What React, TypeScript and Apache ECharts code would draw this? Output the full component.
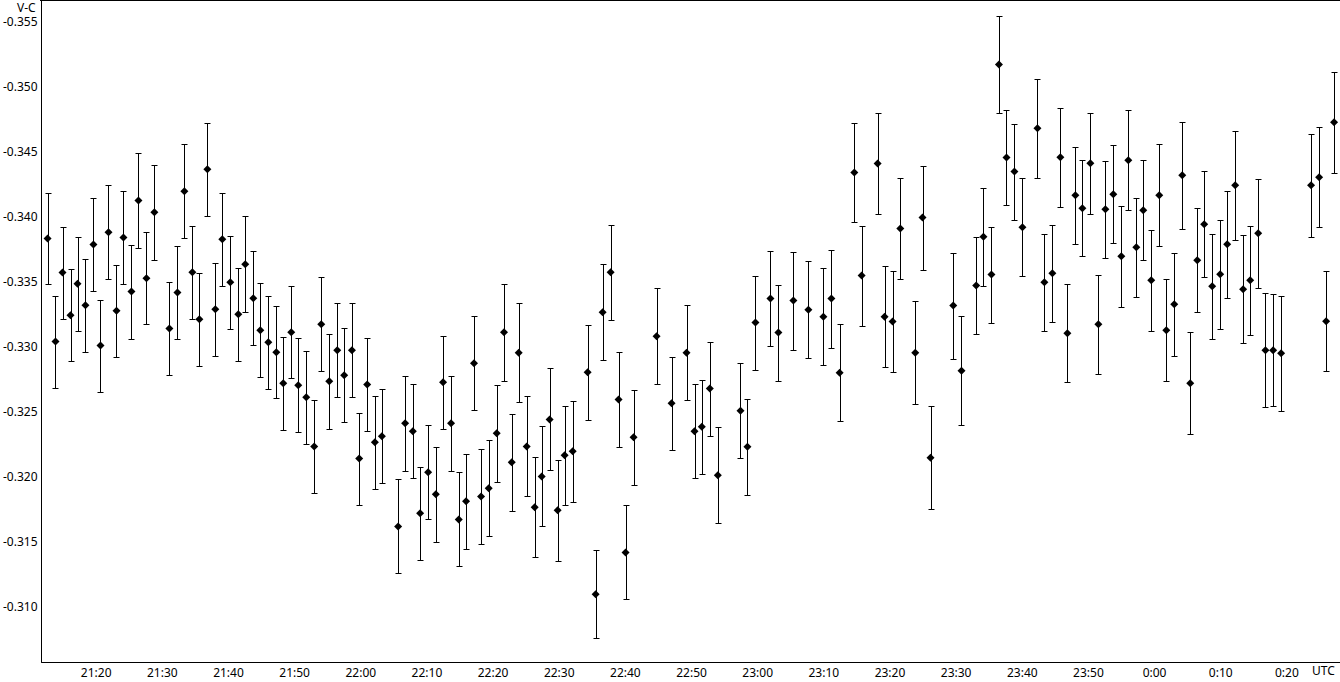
import React, { useEffect, useRef } from "react";
import * as echarts from "echarts";

// Observation times, in minutes after 21:00 UTC
const timeMin = [12.65, 13.85, 14.91, 16.12, 17.18, 18.38, 19.59, 20.65, 21.86, 23.07, 24.12, 25.33, 26.39, 27.6, 28.8, 31.07, 32.28, 33.33, 34.54, 35.6, 36.81, 38.01, 39.07, 40.28, 41.49, 42.54, 43.75, 44.81, 46.02, 47.23, 48.28, 49.49, 50.55, 51.76, 52.96, 54.02, 55.23, 56.44, 57.49, 58.66, 59.76, 60.97, 62.13, 63.19, 65.65, 66.7, 67.87, 68.97, 70.18, 71.34, 72.44, 73.65, 74.81, 75.92, 77.12, 78.18, 79.34, 80.55, 81.65, 82.82, 83.87, 85.08, 86.29, 87.35, 88.55, 89.76, 90.82, 92.03, 94.29, 95.5, 96.56, 97.77, 98.97, 100.03, 101.24, 104.71, 106.98, 109.24, 110.45, 111.55, 112.76, 113.97, 117.4, 118.45, 119.66, 121.93, 123.13, 125.4, 127.66, 129.93, 131.14, 132.39, 134.61, 135.71, 138.13, 139.18, 140.39, 141.56, 143.82, 144.92, 146.13, 149.56, 150.81, 153.03, 154.13, 155.34, 156.47, 157.61, 158.81, 160.02, 162.29, 163.34, 164.55, 165.76, 166.82, 168.03, 169.08, 170.29, 171.5, 172.56, 173.76, 174.97, 176.03, 177.24, 178.29, 179.5, 180.71, 181.77, 182.97, 184.18, 185.39, 186.45, 187.5, 188.71, 189.92, 190.98, 192.19, 193.39, 194.45, 195.66, 196.76, 197.92, 199.13, 203.66, 204.87, 205.93, 207.13];

// V-C differential magnitudes
const vcValues = [
  -0.33832, -0.33039, -0.3357, -0.33241, -0.33485, -0.33318, -0.33786, -0.33008, -0.3388, -0.33277,
  -0.3384, -0.33424, -0.34125, -0.33526, -0.34035, -0.33139, -0.33416, -0.34196, -0.33572, -0.33211,
  -0.34366, -0.33288, -0.33827, -0.33495, -0.33249, -0.33634, -0.33372, -0.33126, -0.33033, -0.32956,
  -0.32718, -0.3311, -0.32702, -0.3261, -0.32232, -0.33172, -0.32733, -0.32972, -0.32779, -0.32972,
  -0.32138, -0.32708, -0.32263, -0.3231, -0.31616, -0.3241, -0.32348, -0.31717, -0.32032, -0.31863,
  -0.32725, -0.3241, -0.3167, -0.31809, -0.32872, -0.31847, -0.31909, -0.32333, -0.3311, -0.32109,
  -0.32954, -0.32232, -0.31763, -0.32001, -0.3244, -0.3174, -0.32163, -0.32194, -0.32802, -0.31093,
  -0.33264, -0.33572, -0.32594, -0.31416, -0.32302, -0.3308, -0.32564, -0.32954, -0.32348, -0.32384,
  -0.32677, -0.32009, -0.32507, -0.3223, -0.33185, -0.3337, -0.33108, -0.33355, -0.33285, -0.33231,
  -0.3337, -0.328, -0.3434, -0.33547, -0.3441, -0.33231, -0.33193, -0.33909, -0.32954, -0.33994,
  -0.32145, -0.33316, -0.32815, -0.3347, -0.33847, -0.33555, -0.35172, -0.34456, -0.34348, -0.33919,
  -0.34681, -0.33495, -0.33565, -0.34458, -0.33103, -0.34165, -0.34065, -0.34412, -0.33172, -0.34058,
  -0.34173, -0.33696, -0.34435, -0.33765, -0.3405, -0.33511, -0.34165, -0.33126, -0.33326, -0.34319,
  -0.32718, -0.33665, -0.33942, -0.33465, -0.33557, -0.33788, -0.34242, -0.33442, -0.33511, -0.33873,
  -0.32972, -0.32972, -0.32949, -0.34242, -0.34304, -0.33195, -0.34728,
];

// Half-width of each error bar
const vcErrors = [
  0.00353, 0.00354, 0.00354, 0.00354, 0.00361, 0.00358, 0.00358, 0.00354, 0.00361, 0.00354,
  0.00361, 0.00362, 0.00366, 0.00354, 0.00366, 0.00358, 0.00358, 0.00362, 0.00358, 0.00358,
  0.00358, 0.00358, 0.00358, 0.00358, 0.00358, 0.0037, 0.00362, 0.00362, 0.00358, 0.00354,
  0.00358, 0.00354, 0.00362, 0.00358, 0.00358, 0.00362, 0.00366, 0.00362, 0.00362, 0.00362,
  0.00354, 0.00357, 0.00358, 0.00362, 0.00362, 0.00366, 0.00362, 0.00358, 0.00362, 0.00366,
  0.00358, 0.00366, 0.00362, 0.00366, 0.00362, 0.00366, 0.0037, 0.00373, 0.00373, 0.00373,
  0.00381, 0.00385, 0.00385, 0.00385, 0.00393, 0.00389, 0.00381, 0.00389, 0.00366, 0.00339,
  0.0037, 0.00366, 0.00366, 0.00362, 0.00366, 0.0037, 0.00358, 0.00366, 0.00362, 0.00362,
  0.00362, 0.0037, 0.00366, 0.0037, 0.00362, 0.00366, 0.0037, 0.00377, 0.00373, 0.00373,
  0.00377, 0.00373, 0.00381, 0.00385, 0.00389, 0.00389, 0.00389, 0.00389, 0.00397, 0.004,
  0.00397, 0.00408, 0.0042, 0.00373, 0.00377, 0.0037, 0.00373, 0.00366, 0.0037, 0.00377,
  0.00381, 0.00373, 0.00373, 0.00381, 0.00377, 0.00373, 0.0037, 0.00389, 0.00381, 0.00373,
  0.00377, 0.00389, 0.00385, 0.00381, 0.00385, 0.00389, 0.00393, 0.00393, 0.00397, 0.00412,
  0.00393, 0.004, 0.00408, 0.00404, 0.0042, 0.00412, 0.0042, 0.00416, 0.0042, 0.0042,
  0.00439, 0.00431, 0.00443, 0.00397, 0.00385, 0.00385, 0.00389,
];

// Axis ticks
const xTickMinutes = [20, 30, 40, 50, 60, 70, 80, 90, 100, 110, 120, 130, 140, 150, 160, 170, 180, 190, 200];
const yTickValues = [-0.355, -0.35, -0.345, -0.34, -0.335, -0.33, -0.325, -0.32, -0.315, -0.31];

const X_MIN = 11.74;
const X_MAX = 208.03;
const Y_MIN = -0.35669;
const Y_MAX = -0.30572;

const FONT = "'Noto Sans', 'DejaVu Sans', sans-serif";

function fmtTime(m: number): string {
  const total = 21 * 60 + Math.round(m);
  const h = Math.floor(total / 60) % 24;
  const mm = total % 60;
  return h + ":" + (mm < 10 ? "0" + mm : String(mm));
}

export default function App() {
  const ref = useRef<HTMLDivElement>(null);

  useEffect(() => {
    if (!ref.current) return;
    const chart = echarts.init(ref.current, null, { renderer: "svg" });
    const errData = timeMin.map((t, i) => [t, vcValues[i], vcErrors[i]]);
    const ptData = timeMin.map((t, i) => [t, vcValues[i]]);

    chart.setOption({
      animation: false,
      backgroundColor: "#fff",
      grid: { left: 40, right: 0, top: 0, bottom: 20, containLabel: false },
      xAxis: {
        type: "value",
        min: X_MIN,
        max: X_MAX,
        splitLine: { show: false },
        axisTick: { show: false },
        axisLine: { show: true, onZero: false, lineStyle: { color: "#000", width: 1 } },
        axisLabel: {
          customValues: xTickMinutes,
          formatter: (v: number) => fmtTime(v),
          color: "#000",
          fontSize: 12,
          fontFamily: FONT,
          margin: 4,
          showMinLabel: true,
          showMaxLabel: true,
        },
      },
      yAxis: {
        type: "value",
        inverse: true,
        min: Y_MIN,
        max: Y_MAX,
        splitLine: { show: false },
        axisTick: { show: false },
        axisLine: { show: true, onZero: false, lineStyle: { color: "#000", width: 1 } },
        axisLabel: {
          customValues: yTickValues,
          formatter: (v: number) => v.toFixed(3),
          color: "#000",
          fontSize: 12,
          fontFamily: FONT,
          margin: 4,
        },
      },
      graphic: [
        {
          type: "line",
          shape: { x1: 40, y1: 0.5, x2: 1340, y2: 0.5 },
          style: { stroke: "#000", lineWidth: 1 },
          silent: true,
        },
        {
          type: "text",
          left: 17,
          top: 1,
          style: { text: "V-C", fill: "#000", fontSize: 12, fontFamily: FONT },
          silent: true,
        },
        {
          type: "text",
          left: 1312,
          top: 664,
          style: { text: "UTC", fill: "#000", fontSize: 12, fontFamily: FONT },
          silent: true,
        },
      ],
      series: [
        {
          type: "custom",
          data: errData,
          clip: false,
          renderItem: (params: any, api: any) => {
            const t = api.value(0);
            const v = api.value(1);
            const e = api.value(2);
            const top = api.coord([t, v - e]);
            const bot = api.coord([t, v + e]);
            const x = Math.round(top[0]) + 0.5;
            const y1 = Math.round(top[1]) + 0.5;
            const y2 = Math.round(bot[1]) + 0.5;
            const style = { stroke: "#000", lineWidth: 1 };
            return {
              type: "group",
              children: [
                { type: "line", shape: { x1: x, y1: y1, x2: x, y2: y2 }, style },
                { type: "line", shape: { x1: x - 3, y1: y1, x2: x + 3, y2: y1 }, style },
                { type: "line", shape: { x1: x - 3, y1: y2, x2: x + 3, y2: y2 }, style },
              ],
            };
          },
          z: 2,
        },
        {
          type: "scatter",
          data: ptData,
          symbol: "diamond",
          symbolSize: 8,
          itemStyle: { color: "#000", opacity: 1 },
          z: 3,
        },
      ],
    });

    return () => chart.dispose();
  }, []);

  return (
    <div
      ref={ref}
      style={{ position: "fixed", left: 0, top: 0, width: 1340, height: 682, background: "#fff" }}
    />
  );
}
